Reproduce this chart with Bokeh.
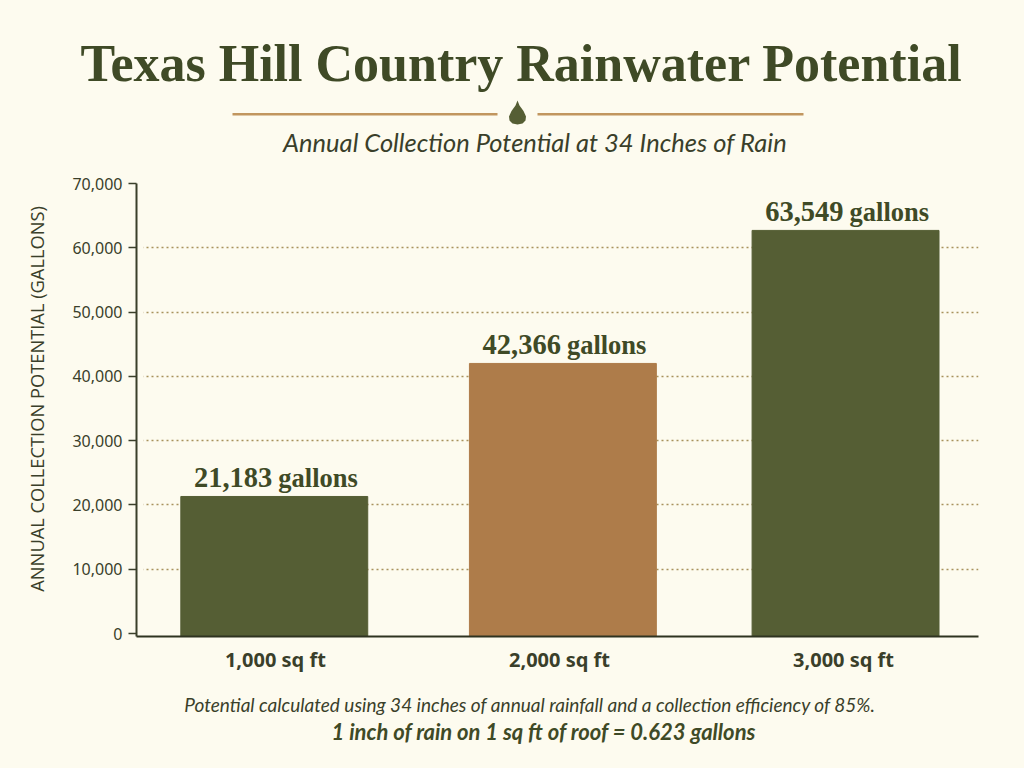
import math
from bokeh.plotting import figure
from bokeh.layouts import column, row
from bokeh.models import (Range1d, LinearAxis, FixedTicker, Grid, Label, PolyAnnotation,
                          BoxAnnotation, ColumnDataSource)
from bokeh.core.properties import value
from bokeh.embed import file_html
from bokeh.resources import INLINE

categories = ["1,000 sq ft", "2,000 sq ft", "3,000 sq ft"]
gallons = [21183, 42366, 63549]
bar_colors = ["#555e34", "#ae7c4a", "#555e34"]
bar_nudge = [-0.004, 0.012, 0.007]
y_ticks = [0, 10000, 20000, 30000, 40000, 50000, 60000, 70000]
grid_ticks = [10000, 20000, 30000, 40000, 50000, 60000, 70000]

BG = "#fdfbef"; DARK = "#3f4a26"; INK = "#3a3f2a"; TAN = "#c1965f"; OLIVE = "#555e34"
TOP_H, MID_H, BOT_H = 170, 510, 88
SIDE_W = 64

def band(w, h):
    f = figure(width=w, height=h, output_backend="svg", toolbar_location=None,
               x_range=Range1d(0, w), y_range=Range1d(h, 0),
               x_axis_location=None, y_axis_location=None,
               background_fill_color=BG, border_fill_color=BG, min_border=0)
    f.outline_line_color = None
    f.xgrid.visible = False; f.ygrid.visible = False
    return f

def lab(f, text, x, y, font, size, color, style="normal", angle=0, baseline="alphabetic"):
    f.add_layout(Label(x=x, y=y, text=text, text_font=font, text_font_size=size, text_color=color,
                       text_font_style=style, text_align="center", text_baseline=baseline, angle=angle))

# header
top = band(1024, TOP_H)
lab(top, "Texas Hill Country Rainwater Potential", 521, 63, "Liberation Serif", "52px", DARK, "bold")
lab(top, "Annual Collection Potential at 34 Inches of Rain", 534.5, 141.5, "Lato", "25.5px", INK, "italic")
for xs, ys, color in [([232, 497, 497, 232], [112.5, 112.5, 115, 115], TAN),
                      ([537, 803, 803, 537], [112.5, 112.5, 115, 115], TAN),
                      ([517, 519, 523, 525.5, 525, 522, 517, 512, 509, 508.5, 511, 515],
                       [100, 105, 110.5, 116, 120, 123, 124, 123, 120, 116, 110.5, 105], OLIVE)]:
    top.add_layout(PolyAnnotation(xs=xs, ys=ys, fill_color=color, fill_alpha=1, line_color=None))

# y-axis title
side = band(SIDE_W, MID_H)
lab(side, "ANNUAL COLLECTION POTENTIAL (GALLONS)", 35.5, 242.5, "Open Sans", "18.3px", INK,
    angle=math.pi/2, baseline="middle")

# chart
p = figure(width=1024 - SIDE_W, height=MID_H, output_backend="svg", toolbar_location=None,
           x_range=Range1d(-0.489, 2.475), y_range=Range1d(-1115, 71019),
           y_axis_location=None, x_axis_location="below",
           background_fill_color=BG, border_fill_color=BG,
           min_border_left=136 - SIDE_W, min_border_right=46, min_border_top=13, min_border_bottom=44)
p.outline_line_color = None
p.xgrid.visible = False; p.ygrid.visible = False

p.extra_y_ranges = {"ticks": Range1d(-466, 70000)}
ax = LinearAxis(y_range_name="ticks", ticker=FixedTicker(ticks=y_ticks))
ax.major_label_overrides = {t: f"{t:,}" for t in y_ticks}
ax.major_tick_in = 0; ax.major_tick_out = 8; ax.minor_tick_line_color = None
ax.major_tick_line_color = INK; ax.axis_line_color = INK; ax.axis_line_width = 2
ax.major_tick_line_width = 1.5
ax.major_label_text_font = "Noto Sans"; ax.major_label_text_font_size = "16px"
ax.major_label_text_color = INK; ax.major_label_standoff = 6
p.add_layout(ax, "left")

p.add_layout(Grid(dimension=1, ticker=FixedTicker(ticks=grid_ticks), y_range_name="ticks",
                  grid_line_color="#a8925c", grid_line_dash="2 3", grid_line_width=1.4))
# the dotted rules begin a few pixels right of the axis
p.add_layout(BoxAnnotation(left=0, right=7, left_units="screen", right_units="screen",
                           fill_color=BG, fill_alpha=1, line_color=None, level="underlay"))

xa = p.xaxis[0]
xa.ticker = FixedTicker(ticks=[0, 1, 2])
xa.major_label_overrides = {i: c for i, c in enumerate(categories)}
xa.major_tick_line_color = None; xa.minor_tick_line_color = None
xa.axis_line_color = "#2e3320"; xa.axis_line_width = 2
xa.major_label_text_font = "Noto Sans"; xa.major_label_text_font_size = "20px"
xa.major_label_text_font_style = "bold"; xa.major_label_text_color = INK
xa.major_label_standoff = 3

src = ColumnDataSource(dict(
    x=[i + n for i, n in enumerate(bar_nudge)], top=gallons, color=bar_colors,
    num=[f"{v:,}" for v in gallons], unit=["gallons"] * 3))
p.vbar(x="x", top="top", bottom=-1115, width=0.658, color="color", source=src)
p.text(x="x", y="top", text="num", source=src, text_align="right", text_baseline="alphabetic",
       x_offset=-2, y_offset=-19, text_font=value("Liberation Serif"), text_font_style="bold",
       text_font_size="28.5px", text_color=DARK)
p.text(x="x", y="top", text="unit", source=src, text_align="left", text_baseline="alphabetic",
       x_offset=4, y_offset=-18.5, text_font=value("Liberation Serif"), text_font_style="bold",
       text_font_size="26.5px", text_color=DARK)

# notes
bot = band(1024, BOT_H)
lab(bot, "Potential calculated using 34 inches of annual rainfall and a collection efficiency of 85%.",
    529.5, 24, "Lato", "19px", INK, "italic")
lab(bot, "1 inch of rain on 1 sq ft of roof = 0.623 gallons", 543.5, 51, "Lato", "22px", DARK, "bold italic")

page = column(top, row(side, p, spacing=0), bot, spacing=0)
html = file_html(page, INLINE)
html = html.replace("<head>", f"<head><style>html,body{{background:{BG};}}</style>", 1)
open("out.html", "w").write(html)
